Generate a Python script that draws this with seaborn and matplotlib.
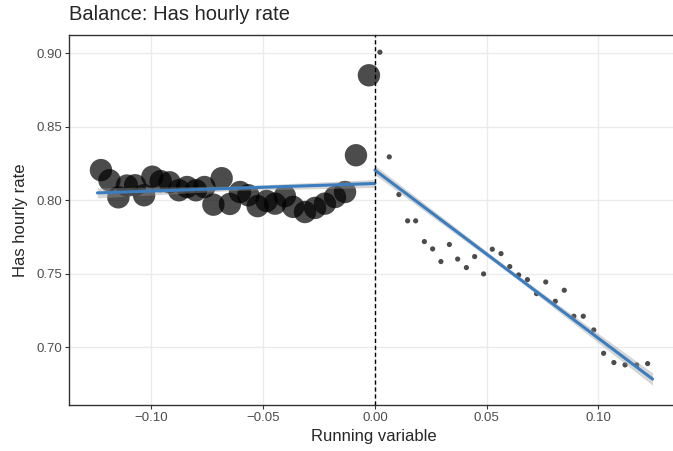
import numpy as np
import pandas as pd
import matplotlib
matplotlib.use("Agg")
import matplotlib.pyplot as plt
import seaborn as sns

# Binned means left of the cutoff (large circles)
left_x = [-0.1226, -0.1188, -0.1148, -0.1110, -0.1073, -0.1033, -0.0996, -0.0959,
          -0.0919, -0.0877, -0.0841, -0.0801, -0.0763, -0.0723, -0.0686, -0.0649,
          -0.0604, -0.0567, -0.0525, -0.0485, -0.0447, -0.0403, -0.0366, -0.0313,
          -0.0268, -0.0224, -0.0179, -0.0134, -0.0085, -0.0027]
left_y = [0.8205, 0.8136, 0.8020, 0.8100, 0.8102, 0.8034, 0.8160, 0.8130,
          0.8122, 0.8068, 0.8090, 0.8068, 0.8090, 0.7970, 0.8150, 0.7975,
          0.8056, 0.8034, 0.7960, 0.7995, 0.7977, 0.8028, 0.7955, 0.7920,
          0.7948, 0.7977, 0.8022, 0.8056, 0.8306, 0.8850]

# Binned means right of the cutoff (small dots)
right_x = [0.0022, 0.0064, 0.0107, 0.0146, 0.0182, 0.0221, 0.0258, 0.0295,
           0.0333, 0.0370, 0.0409, 0.0446, 0.0486, 0.0525, 0.0564, 0.0603,
           0.0643, 0.0682, 0.0723, 0.0764, 0.0807, 0.0847, 0.0890, 0.0932,
           0.0979, 0.1023, 0.1069, 0.1119, 0.1171, 0.1220]
right_y = [0.9007, 0.8295, 0.8039, 0.7860, 0.7860, 0.7719, 0.7669, 0.7583,
           0.7699, 0.7600, 0.7542, 0.7617, 0.7499, 0.7667, 0.7637, 0.7549,
           0.7492, 0.7460, 0.7365, 0.7444, 0.7313, 0.7388, 0.7211, 0.7211,
           0.7118, 0.6959, 0.6896, 0.6880, 0.6880, 0.6889]

# Fitted linear lines with confidence band
left_fit_x = [-0.1242, -0.0621, 0.0]
left_fit_y = [0.8050, 0.8082, 0.8114]
left_fit_se = [0.0034, 0.0015, 0.0027]
right_fit_x = [0.0, 0.0621, 0.1242]
right_fit_y = [0.8205, 0.7495, 0.6784]
right_fit_se = [0.0032, 0.0015, 0.0042]

sns.set_style("white")
plt.rcParams['font.family'] = ['Liberation Sans', 'DejaVu Sans']

fig = plt.figure(figsize=(6.73, 4.51), dpi=100)
ax = fig.add_axes([69 / 673, 0.1009, 610.6 / 673, 0.8215])

ax.grid(True, color="#ebebeb", linewidth=1.0)
ax.set_axisbelow(True)

left_df = pd.DataFrame({"x": left_x, "y": left_y})
right_df = pd.DataFrame({"x": right_x, "y": right_y})
sns.scatterplot(data=left_df, x="x", y="y", s=260, color="black", alpha=0.7,
                edgecolor="none", ax=ax, zorder=2)
sns.scatterplot(data=right_df, x="x", y="y", s=14, color="black", alpha=0.7,
                edgecolor="none", ax=ax, zorder=2)

for fx, fy, fse in [(left_fit_x, left_fit_y, left_fit_se),
                    (right_fit_x, right_fit_y, right_fit_se)]:
    fy = np.array(fy)
    fse = np.array(fse)
    ax.fill_between(fx, fy - fse, fy + fse, color="#999999", alpha=0.4,
                    linewidth=0, zorder=3)
    sns.lineplot(x=fx, y=fy, color="#3c7dbf", linewidth=2.2, ax=ax, zorder=4)

ax.axvline(0, color="black", linewidth=1.0, dashes=(3, 2), zorder=5)

ax.set_xlim(-0.1369, 0.1363)
ax.set_ylim(0.6604, 0.9124)
ax.set_xticks([-0.10, -0.05, 0.00, 0.05, 0.10])
ax.set_xticklabels(["\u22120.10", "\u22120.05", "0.00", "0.05", "0.10"])
ax.set_yticks([0.70, 0.75, 0.80, 0.85, 0.90])
ax.set_yticklabels(["0.70", "0.75", "0.80", "0.85", "0.90"])
ax.tick_params(axis="both", which="major", length=3, width=0.8, color="#333333",
               labelsize=9.5, labelcolor="#4d4d4d", pad=2, bottom=True, left=True)

for side in ["left", "bottom", "top"]:
    ax.spines[side].set_color("#333333")
    ax.spines[side].set_linewidth(1.0)
ax.spines["right"].set_visible(False)

ax.set_xlabel("Running variable", fontsize=12, labelpad=3.5)
ax.set_ylabel("Has hourly rate", fontsize=12, labelpad=6)
ax.set_title("Balance: Has hourly rate", fontsize=14.5, loc="left", pad=10.5)

fig.savefig("out.png", dpi=100)
